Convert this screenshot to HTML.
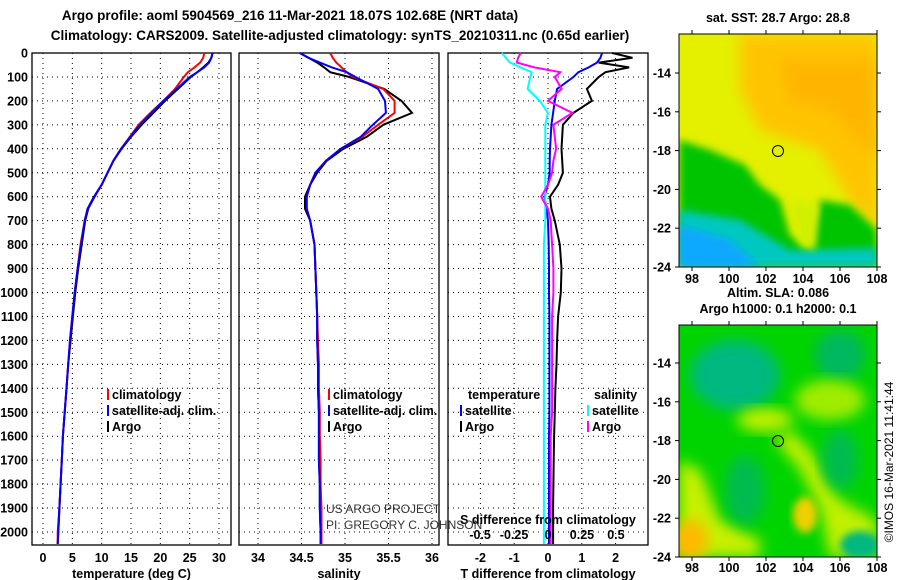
<!DOCTYPE html>
<html><head><meta charset="utf-8"><style>
html,body{margin:0;padding:0;background:#fff;}
svg{display:block;font-family:"Liberation Sans",sans-serif;}
.b{font-weight:bold;font-size:12.5px;fill:#000;}
.t{font-weight:bold;font-size:13.5px;fill:#000;}
</style></head><body>
<svg id="c" width="900" height="580" viewBox="0 0 900 580">
<defs>
<filter id="bl" x="-20%" y="-20%" width="140%" height="140%"><feGaussianBlur stdDeviation="7"/></filter>
<filter id="bl2" x="-20%" y="-20%" width="140%" height="140%"><feGaussianBlur stdDeviation="4"/></filter>
<clipPath id="m1"><rect x="679" y="34" width="198" height="233"/></clipPath>
<clipPath id="m2"><rect x="679" y="325" width="198" height="232"/></clipPath>
</defs>
<text class="t" x="290" y="20" text-anchor="middle">Argo profile: aoml 5904569_216 11-Mar-2021 18.07S 102.68E (NRT data)</text>
<text class="t" x="340" y="40" text-anchor="middle">Climatology: CARS2009. Satellite-adjusted climatology: synTS_20210311.nc (0.65d earlier)</text>

<g clip-path="url(#m1)">
<rect x="679" y="34" width="198" height="233" fill="#e4f000"/>
<path d="M740,34 L877,34 L877,230 L850,200 L820,150 L760,130 L740,90Z" fill="#ffc400" filter="url(#bl)"/>
<path d="M780,60 L877,60 L877,160 L830,110 L790,100Z" fill="#ffac00" filter="url(#bl)" opacity="0.6"/>
<path d="M679,140 L710,150 L745,165 L760,185 L780,200 L790,235 L810,250 L820,200 L850,205 L877,230 L877,267 L679,267Z" fill="#00c400" filter="url(#bl2)"/>
<path d="M679,210 L740,220 L790,250 L877,248 L877,267 L679,267Z" fill="#00c8c0" filter="url(#bl2)"/>
<path d="M679,225 L730,240 L760,267 L679,267Z" fill="#10a8ff" filter="url(#bl2)"/>
<path d="M790,198 L800,245 L815,250 L818,205Z" fill="#d0f000" filter="url(#bl2)"/>
</g>
<rect x="679" y="34" width="198" height="233" fill="none" stroke="#000"/>
<circle cx="778" cy="151" r="5.5" fill="none" stroke="#000"/>
<text class="b" x="778" y="22" text-anchor="middle">sat. SST: 28.7 Argo: 28.8</text>

<g clip-path="url(#m2)">
<rect x="679" y="325" width="198" height="232" fill="#00d400"/>
<ellipse cx="735" cy="375" rx="45" ry="35" fill="#00b880" filter="url(#bl)"/>
<ellipse cx="840" cy="355" rx="25" ry="25" fill="#00b860" filter="url(#bl)"/>
<ellipse cx="830" cy="400" rx="35" ry="20" fill="#a0ec00" filter="url(#bl)"/>
<ellipse cx="765" cy="420" rx="28" ry="12" fill="#c0f000" filter="url(#bl)"/>
<path d="M775,440 L800,470 L820,510 L830,557 L877,557 L877,520 L840,500 L810,450 L790,430Z" fill="#c0f000" filter="url(#bl)"/>
<ellipse cx="805" cy="515" rx="12" ry="18" fill="#f0d000" filter="url(#bl2)"/>
<path d="M679,460 L700,470 L720,520 L760,540 L760,557 L679,557Z" fill="#c8f000" filter="url(#bl)"/>
<ellipse cx="690" cy="540" rx="18" ry="20" fill="#ffb800" filter="url(#bl)"/>
<ellipse cx="745" cy="490" rx="20" ry="35" fill="#00bc50" filter="url(#bl)"/>
<ellipse cx="840" cy="460" rx="18" ry="30" fill="#00bc50" filter="url(#bl)"/>
<ellipse cx="860" cy="545" rx="20" ry="14" fill="#00b880" filter="url(#bl2)"/>
</g>
<rect x="679" y="325" width="198" height="232" fill="none" stroke="#000"/>
<circle cx="778" cy="441" r="5.5" fill="none" stroke="#000"/>
<text class="b" x="778" y="297" text-anchor="middle">Altim. SLA: 0.086</text>
<text class="b" x="778" y="313" text-anchor="middle">Argo h1000: 0.1 h2000: 0.1</text>
<text x="893" y="462" font-size="12" text-anchor="middle" transform="rotate(-90 893 462)">©IMOS 16-Mar-2021 11:41:44</text>
</svg>
<script>
const depths=[0,20,40,60,80,100,150,200,250,300,350,400,450,500,550,600,650,700,800,900,1000,1100,1200,1300,1400,1500,1600,1700,1800,1900,2000,2050];
const tempArgo=[28.9,28.7,28.2,27.3,26.3,25.2,23.0,20.8,18.8,16.8,15.0,13.4,12.0,11.0,10.0,8.8,7.7,7.2,6.6,6.0,5.5,5.1,4.7,4.3,4.0,3.7,3.4,3.2,3.0,2.8,2.6,2.5];
const tempClim=[27.5,27.3,26.8,25.8,24.7,24.0,22.5,20.5,18.3,16.3,14.8,13.3,12.0,11.0,10.0,8.7,7.6,7.1,6.4,5.9,5.4,5.0,4.6,4.3,4.0,3.7,3.4,3.2,3.0,2.8,2.5,2.5];
const tempSat=[28.9,28.7,28.3,27.5,26.3,25.0,22.8,20.5,18.5,16.5,14.9,13.3,12.0,11.0,10.0,8.7,7.6,7.1,6.5,5.9,5.4,5.0,4.6,4.3,4.0,3.7,3.4,3.2,3.0,2.8,2.6,2.5];
const salArgo=[34.48,34.58,34.68,34.76,34.83,35.05,35.45,35.65,35.77,35.44,35.25,34.98,34.79,34.68,34.60,34.54,34.54,34.60,34.65,34.66,34.67,34.68,34.68,34.69,34.69,34.70,34.70,34.70,34.71,34.71,34.72,34.72];
const salClim=[34.83,34.86,34.90,34.96,35.02,35.09,35.44,35.57,35.57,35.38,35.20,34.95,34.78,34.66,34.60,34.56,34.56,34.60,34.65,34.66,34.67,34.68,34.69,34.70,34.70,34.71,34.71,34.72,34.72,34.73,34.73,34.73];
const salSat=[34.48,34.58,34.71,34.85,35.02,35.12,35.38,35.46,35.47,35.32,35.18,34.95,34.78,34.66,34.60,34.56,34.56,34.60,34.65,34.66,34.67,34.68,34.68,34.69,34.69,34.70,34.70,34.70,34.71,34.71,34.72,34.72];
const tDiffArgo=[1.9,2.5,1.5,2.4,1.7,1.5,1.15,1.3,0.75,0.44,0.42,0.4,0.42,0.44,0.3,0.06,0.1,0.2,0.35,0.4,0.38,0.3,0.27,0.25,0.22,0.2,0.18,0.17,0.16,0.15,0.15,0.15];
const tDiffSat=[1.6,1.55,1.45,1.2,0.9,0.75,0.27,0.2,0.15,0.1,0.08,0.06,0.05,0.05,0.0,-0.1,-0.05,0.0,0.02,0.03,0.03,0.04,0.04,0.04,0.04,0.04,0.03,0.03,0.03,0.03,0.03,0.03];
const sDiffArgo=[-0.2,-0.22,-0.23,-0.1,0.09,0.05,0.1,0.0,0.18,0.04,0.05,0.06,0.04,0.03,0.0,-0.05,0.0,0.02,0.03,0.04,0.04,0.03,0.03,0.03,0.03,0.03,0.02,0.02,0.02,0.02,0.02,0.02];
const sDiffSat=[-0.34,-0.31,-0.28,-0.2,-0.12,-0.13,-0.15,-0.06,0.0,-0.02,-0.02,-0.02,-0.02,-0.02,-0.02,-0.02,-0.02,-0.02,-0.03,-0.03,-0.03,-0.03,-0.03,-0.03,-0.03,-0.03,-0.03,-0.03,-0.03,-0.03,-0.03,-0.03];
const depthTicks=[0,100,200,300,400,500,600,700,800,900,1000,1100,1200,1300,1400,1500,1600,1700,1800,1900,2000];
const tempTicks=[0,5,10,15,20,25,30];
const salTicks=[34,34.5,35,35.5,36];
const salTickLabels=["34","34.5","35","35.5","36"];
const tdTicks=[-2,-1,0,1,2];
const sdTicks=[-0.5,-0.25,0,0.25,0.5];
const sdTickLabels=["-0.5","-0.25","0","0.25","0.5"];

const NS="http://www.w3.org/2000/svg";
const svg=document.getElementById('c');
const TOP=53,BOT=545;
const yD=d=>TOP+d*(532-TOP)/2000;
const xT=v=>43+v*(219-43)/30;
const xS=v=>258+(v-34)*(432-258)/2;
const xTD=v=>548+v*33.8;
const xSD=v=>548+v*135.8;
function el(tag,attrs,parent){const e=document.createElementNS(NS,tag);for(const k in attrs)e.setAttribute(k,attrs[k]);(parent||svg).appendChild(e);return e;}
const panels=[{l:32,r:231,name:'temperature-panel'},{l:239,r:439,name:'salinity-panel'},{l:448,r:648,name:'difference-panel'}];
function panel(p,ticks,fx,labels,title){
  const g=el('g',{});
  
  
  depthTicks.forEach(d=>{const y=yD(d);const ln=el('line',{x1:p.l,x2:p.r,y1:y,y2:y,stroke:'#000','stroke-dasharray':'1,4','stroke-width':1},g);
    
    });
  ticks.forEach((t,i)=>{const x=fx(t);const ln=el('line',{x1:x,x2:x,y1:TOP,y2:BOT,stroke:'#000','stroke-dasharray':'1,4','stroke-width':1},g);
    
    
    if(labels){const tx=el('text',{x:x,y:562,'text-anchor':'middle',class:'b'},g);tx.textContent=labels[i];
    
    }});
  const fr=el('rect',{x:p.l,y:TOP,width:p.r-p.l,height:BOT-TOP,fill:'none',stroke:'#000','stroke-width':1.3},g);
  
  
  const tt=el('text',{x:(p.l+p.r)/2,y:578,'text-anchor':'middle',class:'b'},g);tt.textContent=title;
  
  
  return g;
}
panel(panels[0],tempTicks,xT,tempTicks.map(String),'temperature (deg C)');
panel(panels[1],salTicks,xS,salTickLabels,'salinity');
panel(panels[2],tdTicks,xTD,tdTicks.map(String),'T difference from climatology');
depthTicks.forEach(d=>{const t=el('text',{x:28,y:yD(d)+4.5,'text-anchor':'end',class:'b'});t.textContent=d;
  
  });
function line(vals,fx,color,name,w){
  const pts=vals.map((v,i)=>fx(v).toFixed(1)+','+yD(depths[i]).toFixed(1)).join(' ');
  const p=el('polyline',{points:pts,fill:'none',stroke:color,'stroke-width':w||2});
  
  
}
line(tempArgo,xT,'#000','temp-argo-line');
line(tempClim,xT,'#f00','temp-climatology-line');
line(tempSat,xT,'#00f','temp-satellite-line');
line(salArgo,xS,'#000','salinity-argo-line');
line(salClim,xS,'#f00','salinity-climatology-line');
line(salSat,xS,'#00f','salinity-satellite-line');
line(tDiffArgo,xTD,'#000','tdiff-argo-line');
line(tDiffSat,xTD,'#00f','tdiff-satellite-line');
line(sDiffSat,xSD,'#0ff','sdiff-satellite-line');
line(sDiffArgo,xSD,'#f0f','sdiff-argo-line');
function leg(x,y,color,label,name){
  const r=el('rect',{x:x,y:y-10,width:2,height:11,fill:color});
  
  
  const t=el('text',{x:x+5,y:y,class:'b'});t.textContent=label;
  
  
}
leg(107,399,'#f00','climatology','legend-climatology');
leg(107,415,'#00f','satellite-adj. clim.','legend-satellite-adj');
leg(107,431,'#000','Argo','legend-argo');
leg(328,399,'#f00','climatology','legend2-climatology');
leg(328,415,'#00f','satellite-adj. clim.','legend2-satellite-adj');
leg(328,431,'#000','Argo','legend2-argo');
leg(460,415,'#00f','satellite','legend-t-satellite');
leg(460,431,'#000','Argo','legend-t-argo');
leg(587,415,'#0ff','satellite','legend-s-satellite');
leg(587,431,'#f0f','Argo','legend-s-argo');
[[468,'temperature','legend-t-header'],[594,'salinity','legend-s-header']].forEach(a=>{const t=el('text',{x:a[0],y:399,class:'b'});t.textContent=a[1];
  
  });
const sdt=el('text',{x:548,y:524,'text-anchor':'middle',class:'b'});sdt.textContent='S difference from climatology';


sdTicks.forEach((v,i)=>{const t=el('text',{x:xSD(v),y:539,'text-anchor':'middle',class:'b'});t.textContent=sdTickLabels[i];
  
  });
[['US ARGO PROJECT',513,'project-credit'],['PI: GREGORY C. JOHNSON',529,'pi-credit']].forEach(a=>{const t=el('text',{x:326,y:a[1],'font-size':12,fill:'#333'});t.textContent=a[0];
  
  });
// map axes
const lonTicks=[98,100,102,104,106,108];
const latTicks=[-14,-16,-18,-20,-22,-24];
const xLon=v=>692+(v-98)*18.5;
[[34,267,283,73,'sst'],[325,557,572,363,'sla']].forEach(m=>{
  lonTicks.forEach(v=>{const t=el('text',{x:xLon(v),y:m[2],'text-anchor':'middle',class:'b'});t.textContent=v;
    
    
    el('line',{x1:xLon(v),x2:xLon(v),y1:m[0]-4,y2:m[0],stroke:'#000'});
    el('line',{x1:xLon(v),x2:xLon(v),y1:m[1],y2:m[1]+4,stroke:'#000'});});
  latTicks.forEach(v=>{const y=m[3]+(-14-v)*19.4;const t=el('text',{x:671,y:y+4.5,'text-anchor':'end',class:'b'});t.textContent=v;
    
    
    el('line',{x1:675,x2:679,y1:y,y2:y,stroke:'#000'});
    el('line',{x1:877,x2:881,y1:y,y2:y,stroke:'#000'});});
});
</script>
</body></html>
